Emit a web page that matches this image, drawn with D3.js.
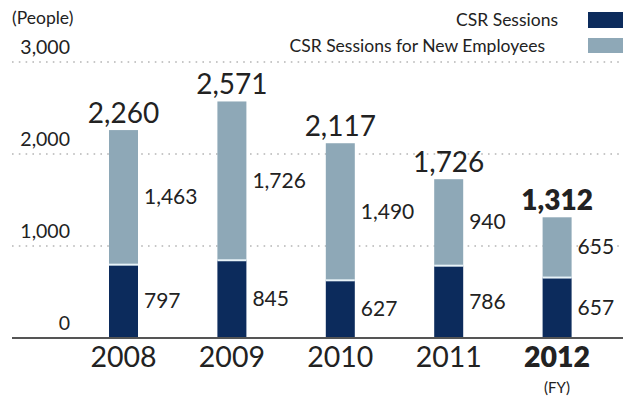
<!DOCTYPE html>
<html>
<head>
<meta charset="utf-8">
<script src="https://cdn.jsdelivr.net/npm/d3@7"></script>
<style>
  html, body { margin: 0; padding: 0; background: #fff; }
  svg { display: block; }
  text { font-family: Lato, "Open Sans", sans-serif; fill: #222; }
</style>
</head>
<body>
<svg id="chart" width="623" height="403"></svg>
<script>
// Fiscal years and session participants (people)
const years = ["2008", "2009", "2010", "2011", "2012"];
const csrSessions = [797, 845, 627, 786, 657];
const newEmployeeSessions = [1463, 1726, 1490, 940, 655];
const totals = [2260, 2571, 2117, 1726, 1312];
const yTicks = [0, 1000, 2000, 3000];
const seriesNames = ["CSR Sessions", "CSR Sessions for New Employees"];
const seriesColors = ["#0c2b5c", "#8ea8b7"];

const svg = d3.select("#chart");
const fmt = d3.format(",");

const x = d3.scaleBand().domain(years).range([54.8, 625.8]).paddingInner(0.7325).paddingOuter(0.5);
const y = d3.scaleLinear().domain([0, 3000]).range([338, 62]);

// dotted gridlines
svg.append("g").selectAll("line").data(yTicks.filter(d => d > 0)).join("line")
  .attr("x1", 12).attr("x2", 623)
  .attr("y1", d => y(d)).attr("y2", d => y(d))
  .attr("stroke", "#b5b5b5").attr("stroke-width", 1.6)
  .attr("stroke-dasharray", "1.6,5.2");

// y tick labels sit above their gridline
svg.append("g").selectAll("text").data(yTicks).join("text")
  .attr("x", 70).attr("y", d => y(d) - 8)
  .attr("text-anchor", "end").attr("font-size", 19.5)
  .attr("fill", "#333")
  .text(d => fmt(d));

svg.append("text").attr("x", 12).attr("y", 24)
  .attr("font-size", 17.5).attr("fill", "#333").text("(People)");

// stacked data
const rows = years.map((yr, i) => ({ year: yr, csr: csrSessions[i], fresh: newEmployeeSessions[i], total: totals[i] }));
const stack = d3.stack().keys(["csr", "fresh"])(rows);

const bw = x.bandwidth();
svg.append("g").selectAll("g").data(stack).join("g")
  .attr("fill", (d, i) => seriesColors[i])
  .selectAll("rect").data(d => d).join("rect")
  .attr("x", d => x(d.data.year))
  .attr("width", bw)
  .attr("y", d => y(d[1]))
  .attr("height", d => y(d[0]) - y(d[1]));

// thin pale separator between segments
svg.append("g").selectAll("line").data(rows).join("line")
  .attr("x1", d => x(d.year)).attr("x2", d => x(d.year) + bw)
  .attr("y1", d => y(d.csr)).attr("y2", d => y(d.csr))
  .attr("stroke", "#e8f3f8").attr("stroke-width", 2);

// segment value labels to the right of each bar
const segLabels = svg.append("g");
stack.forEach(layer => {
  segLabels.selectAll(null).data(layer).join("text")
    .attr("x", d => x(d.data.year) + bw + 6)
    .attr("y", d => (y(d[0]) + y(d[1])) / 2 + 7)
    .attr("font-size", 21)
    .text(d => fmt(d[1] - d[0]));
});

// totals above the bars
svg.append("g").selectAll("text").data(rows).join("text")
  .attr("x", d => x(d.year) + bw / 2)
  .attr("y", d => y(d.total) - 7)
  .attr("text-anchor", "middle")
  .attr("font-size", 28)
  .attr("font-weight", (d, i) => i === rows.length - 1 ? 800 : 400)
  .text(d => fmt(d.total));

// baseline
svg.append("line").attr("x1", 12).attr("x2", 623)
  .attr("y1", y(0)).attr("y2", y(0))
  .attr("stroke", "#555").attr("stroke-width", 2);

// year labels
svg.append("g").selectAll("text").data(years).join("text")
  .attr("x", d => x(d) + bw / 2).attr("y", 367)
  .attr("text-anchor", "middle").attr("font-size", 28.5)
  .attr("font-weight", (d, i) => i === years.length - 1 ? 800 : 400)
  .text(d => d);

svg.append("text").attr("x", x("2012") + bw / 2).attr("y", 393)
  .attr("text-anchor", "middle").attr("font-size", 15).attr("fill", "#333").text("(FY)");

// legend
const legend = svg.append("g");
seriesNames.forEach((name, i) => {
  legend.append("rect").attr("x", 588).attr("y", i === 0 ? 12 : 38)
    .attr("width", 35).attr("height", i === 0 ? 16 : 15)
    .attr("fill", seriesColors[i]);
  legend.append("text").attr("x", i === 0 ? 558 : 545).attr("y", i === 0 ? 26 : 52)
    .attr("text-anchor", "end").attr("font-size", 17.5).attr("fill", "#333")
    .text(name);
});
</script>
</body>
</html>
